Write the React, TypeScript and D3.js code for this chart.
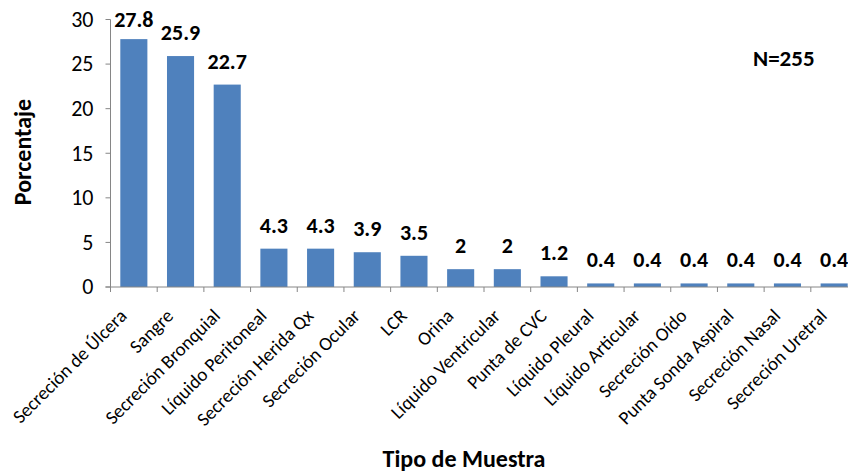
import React from "react";
import * as d3 from "d3";

const categories = [
  "Secreción de Úlcera",
  "Sangre",
  "Secreción Bronquial",
  "Líquido Peritoneal",
  "Secreción Herida Qx",
  "Secreción Ocular",
  "LCR",
  "Orina",
  "Líquido Ventricular",
  "Punta de CVC",
  "Líquido Pleural",
  "Líquido Articular",
  "Secreción Oído",
  "Punta Sonda Aspiral",
  "Secreción Nasal",
  "Secreción Uretral",
];
const values = [27.8, 25.9, 22.7, 4.3, 4.3, 3.9, 3.5, 2, 2, 1.2, 0.4, 0.4, 0.4, 0.4, 0.4, 0.4];
const yTicks = [0, 5, 10, 15, 20, 25, 30];
const yTitle = "Porcentaje";
const xTitle = "Tipo de Muestra";
const note = "N=255";

const W = 848;
const H = 472;
const FONT = "Calibri, Carlito, Lato, sans-serif";
const BAR = "#4F81BD";
const AXIS = "#868686";

export default function App() {
  const x = d3
    .scaleBand<string>()
    .domain(categories)
    .range([110.5, 857.5])
    .paddingInner(0.42)
    .paddingOuter(0.21);
  const y = d3.scaleLinear().domain([0, 30]).range([287, 19.5]);
  const x0 = 110.5;
  const y0 = y(0);
  const step = x.step();
  const ticksX = d3.range(categories.length + 1).map((i) => x0 + i * step);

  return (
    <svg
      width={W}
      height={H}
      style={{ position: "absolute", left: 0, top: 0, background: "#fff" }}
      fontFamily={FONT}
    >
      {/* bars */}
      {categories.map((c, i) => (
        <rect
          key={c}
          x={x(c)}
          y={y(values[i])}
          width={x.bandwidth()}
          height={y0 - y(values[i])}
          fill={BAR}
        />
      ))}
      {/* value labels */}
      {categories.map((c, i) => (
        <text
          key={"v" + c}
          x={(x(c) as number) + x.bandwidth() / 2}
          y={Math.max(y(values[i]) - 16, 27)}
          textAnchor="middle"
          fontSize={22}
          fontWeight="bold"
          fill="#000"
        >
          {String(values[i])}
        </text>
      ))}
      {/* y axis */}
      <line x1={x0} x2={x0} y1={y(30)} y2={y0} stroke={AXIS} strokeWidth={1} />
      {yTicks.map((t) => (
        <g key={"yt" + t}>
          <line x1={x0 - 5} x2={x0} y1={y(t)} y2={y(t)} stroke={AXIS} />
          <text
            x={x0 - 17}
            y={y(t)}
            dy="0.33em"
            textAnchor="end"
            fontSize={22}
            fill="#000"
          >
            {t}
          </text>
        </g>
      ))}
      {/* x axis */}
      <line x1={x0 - 5} x2={W} y1={y0} y2={y0} stroke={AXIS} />
      {ticksX.map((tx, i) => (
        <line key={"xt" + i} x1={tx} x2={tx} y1={y0} y2={y0 + 5} stroke={AXIS} />
      ))}
      {categories.map((c) => {
        const cx = (x(c) as number) + x.bandwidth() / 2;
        return (
          <text
            key={"c" + c}
            transform={`translate(${cx - 6},${y0 + 30}) rotate(-45)`}
            textAnchor="end"
            fontSize={19}
            fill="#000"
          >
            {c}
          </text>
        );
      })}
      {/* titles */}
      <text
        transform={`translate(31,152) rotate(-90)`}
        textAnchor="middle"
        fontSize={24}
        fontWeight="bold"
        fill="#000"
      >
        {yTitle}
      </text>
      <text x={464} y={466.5} textAnchor="middle" fontSize={24} fontWeight="bold" fill="#000">
        {xTitle}
      </text>
      <text x={753} y={66} textAnchor="start" fontSize={23} fontWeight="bold" fill="#000">
        {note}
      </text>
    </svg>
  );
}
